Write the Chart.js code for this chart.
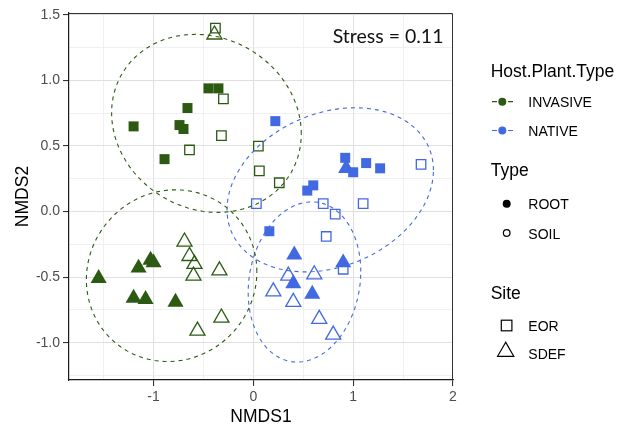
<!DOCTYPE html>
<html><head><meta charset="utf-8">
<script src="https://cdn.jsdelivr.net/npm/chart.js@4/dist/chart.umd.min.js"></script>
<style>
html,body{margin:0;padding:0;background:#fff;}
#wrap{position:relative;width:620px;height:428px;overflow:hidden;font-family:"Liberation Sans",Arial,sans-serif;}
#c{position:absolute;left:0;top:0;}
.lg{position:absolute;white-space:nowrap;color:#000;}
.t{font-size:17.5px;height:22px;line-height:22px;}
.l{font-size:14px;height:18px;line-height:18px;}
#keys{position:absolute;left:0;top:0;pointer-events:none;}
#stress{position:absolute;right:176.5px;top:24px;height:24px;line-height:24px;font-family:Lato,"Open Sans",sans-serif;font-size:19.5px;color:#111;white-space:nowrap;}
</style>
</head>
<body>
<div id="wrap">
<canvas id="c" width="620" height="428"></canvas>
<div id="stress">Stress = 0.11</div>
<div class="lg t" style="left:490.7px;top:59.8px;">Host.Plant.Type</div>
<div class="lg l" style="left:528.3px;top:93px;">INVASIVE</div>
<div class="lg l" style="left:528.3px;top:122px;">NATIVE</div>
<div class="lg t" style="left:490.7px;top:159px;">Type</div>
<div class="lg l" style="left:528.3px;top:195.2px;">ROOT</div>
<div class="lg l" style="left:528.3px;top:224.5px;">SOIL</div>
<div class="lg t" style="left:490.7px;top:281.8px;">Site</div>
<div class="lg l" style="left:528.3px;top:316.7px;">EOR</div>
<div class="lg l" style="left:528.3px;top:345.3px;">SDEF</div>
<svg id="keys" width="620" height="428" xmlns="http://www.w3.org/2000/svg">
  <line x1="492" y1="101.7" x2="513" y2="101.7" stroke="#2D5A12" stroke-width="1.2" stroke-dasharray="5 11"/>
  <circle cx="502.3" cy="101.7" r="4" fill="#2D5A12"/>
  <line x1="492" y1="130.5" x2="513" y2="130.5" stroke="#4169E1" stroke-width="1.2" stroke-dasharray="5 11"/>
  <circle cx="502.3" cy="130.5" r="4" fill="#4169E1"/>
  <circle cx="506.7" cy="203.8" r="4" fill="#000"/>
  <circle cx="506.7" cy="233" r="3.3" fill="none" stroke="#000" stroke-width="1.2"/>
  <rect x="501.3" y="320.2" width="10.6" height="10.6" fill="none" stroke="#000" stroke-width="1.2"/>
  <polygon points="505.7,342.2 497.6,356.3 513.8,356.3" fill="none" stroke="#000" stroke-width="1.2"/>
</svg>
</div>
<script>
// ---- axis ticks ----
const xGridValues = [-1.5, -1, -0.5, 0, 0.5, 1, 1.5, 2];
const xTickValues = [-1, 0, 1, 2];
const xTickLabels = ['-1', '0', '1', '2'];
const yGridValues = [-1.25, -1, -0.75, -0.5, -0.25, 0, 0.25, 0.5, 0.75, 1, 1.25, 1.5];
const yTickValues = [-1, -0.5, 0, 0.5, 1, 1.5];
const yTickLabels = ['-1.0', '-0.5', '0.0', '0.5', '1.0', '1.5'];

// ---- points [NMDS1, NMDS2] ----
const invasiveRootEOR = [[-0.45,0.94],[-0.35,0.94],[-0.66,0.79],[-1.20,0.65],[-0.74,0.66],[-0.70,0.63],[-0.89,0.40]];
const invasiveSoilEOR = [[-0.38,1.40],[-0.30,0.86],[-0.32,0.58],[-0.64,0.47],[0.05,0.50],[0.06,0.31],[0.26,0.22]];
const invasiveRootSDEF = [[-1.55,-0.51],[-1.15,-0.43],[-1.03,-0.37],[-1.00,-0.39],[-1.20,-0.66],[-1.08,-0.67],[-0.78,-0.69]];
const invasiveSoilSDEF = [[-0.39,1.35],[-0.69,-0.23],[-0.64,-0.34],[-0.59,-0.40],[-0.60,-0.49],[-0.34,-0.45],[-0.32,-0.81],[-0.56,-0.91]];
const nativeRootEOR = [[0.22,0.69],[0.92,0.41],[1.00,0.30],[1.13,0.37],[1.27,0.33],[0.54,0.16],[0.60,0.20],[0.16,-0.15]];
const nativeSoilEOR = [[1.68,0.36],[0.03,0.06],[0.70,0.06],[0.82,-0.02],[1.10,0.06],[0.73,-0.19],[0.90,-0.44]];
const nativeRootSDEF = [[0.93,0.33],[0.41,-0.33],[0.90,-0.39],[0.40,-0.55],[0.59,-0.63]];
const nativeSoilSDEF = [[0.35,-0.49],[0.61,-0.48],[0.20,-0.61],[0.40,-0.69],[0.66,-0.82],[0.80,-0.94]];

// ---- ellipses (centre, half extents, correlation) ----
const ellipseGroup = ['INVASIVE', 'INVASIVE', 'NATIVE', 'NATIVE'];
const ellipseCX = [-0.470, -0.819, 0.770, 0.512];
const ellipseCY = [0.673, -0.489, 0.166, -0.537];
const ellipseRX = [0.950, 0.854, 1.034, 0.564];
const ellipseRY = [0.679, 0.655, 0.626, 0.611];
const ellipseRho = [-0.118, 0.047, 0.24, 0.13];

const GREEN = '#2D5A12';
const BLUE = '#4169E1';
const groupColor = g => g === 'INVASIVE' ? GREEN : BLUE;

function ellipsePoints(i) {
  const pts = [];
  const n = 160;
  const s = Math.sqrt(1 - ellipseRho[i] * ellipseRho[i]);
  for (let k = 0; k <= n; k++) {
    const t = 2 * Math.PI * k / n;
    pts.push({
      x: ellipseCX[i] + ellipseRX[i] * Math.cos(t),
      y: ellipseCY[i] + ellipseRY[i] * (ellipseRho[i] * Math.cos(t) + s * Math.sin(t))
    });
  }
  return pts;
}
const toXY = arr => arr.map(p => ({x: p[0], y: p[1]}));

const datasets = [];
for (let i = 0; i < ellipseCX.length; i++) {
  datasets.push({
    data: ellipsePoints(i), showLine: true, pointRadius: 0, borderWidth: 1.1,
    borderColor: groupColor(ellipseGroup[i]), borderDash: [4, 4], fill: false, tension: 0
  });
}
function pts(arr, color, shape, filled) {
  const isTri = shape === 'triangle';
  return {
    data: toXY(arr), pointStyle: shape,
    pointRadius: isTri ? (filled ? 9.3 : 8.7) : (filled ? 7.07 : 6.7),
    pointBackgroundColor: filled ? color : 'rgba(0,0,0,0)',
    pointBorderColor: color,
    pointBorderWidth: filled ? 0 : 1.3,
    showLine: false
  };
}
datasets.push(pts(invasiveSoilEOR, GREEN, 'rect', false));
datasets.push(pts(invasiveSoilSDEF, GREEN, 'triangle', false));
datasets.push(pts(nativeSoilEOR, BLUE, 'rect', false));
datasets.push(pts(nativeSoilSDEF, BLUE, 'triangle', false));
datasets.push(pts(invasiveRootEOR, GREEN, 'rect', true));
datasets.push(pts(invasiveRootSDEF, GREEN, 'triangle', true));
datasets.push(pts(nativeRootEOR, BLUE, 'rect', true));
datasets.push(pts(nativeRootSDEF, BLUE, 'triangle', true));

const frame = {
  id: 'frame',
  afterDraw(chart) {
    const {ctx, chartArea: a} = chart;
    ctx.save();
    ctx.strokeStyle = '#333';
    ctx.lineWidth = 1;
    ctx.beginPath();
    ctx.moveTo(a.left, a.top + 0.5);
    ctx.lineTo(a.right - 0.5, a.top + 0.5);
    ctx.lineTo(a.right - 0.5, a.bottom);
    ctx.stroke();
    ctx.restore();
  }
};

Chart.defaults.font.family = '"Liberation Sans", Arial, sans-serif';
const FAM = '"Liberation Sans", Arial, sans-serif';

function gridOpts(majors) {
  return {
    color: c => majors.includes(c.tick.value) ? '#E0E0E0' : '#ECECEC',
    lineWidth: c => majors.includes(c.tick.value) ? 1.1 : 0.8,
    tickColor: c => majors.includes(c.tick.value) ? '#333' : 'rgba(0,0,0,0)',
    tickLength: 6,
    tickWidth: 1.1,
    drawTicks: true
  };
}

new Chart(document.getElementById('c'), {
  type: 'scatter',
  data: {datasets},
  plugins: [frame],
  options: {
    responsive: false,
    animation: false,
    devicePixelRatio: 1,
    layout: {padding: {left: 0, top: 13, right: 167, bottom: 0}},
    plugins: {legend: {display: false}, tooltip: {enabled: false}},
    scales: {
      x: {
        type: 'linear', min: -1.847, max: 2.0,
        afterBuildTicks: s => { s.ticks = xGridValues.map(v => ({value: v})); },
        afterFit: s => { s.height = 48; },
        ticks: {
          autoSkip: false, maxRotation: 0, padding: 3, color: '#4D4D4D',
          font: {family: FAM, size: 14},
          callback: v => { const i = xTickValues.indexOf(v); return i >= 0 ? xTickLabels[i] : ''; }
        },
        grid: gridOpts(xTickValues),
        border: {display: true, color: '#1a1a1a', width: 1.2},
        title: {display: true, text: 'NMDS1', color: '#000', font: {family: FAM, size: 17.5}, padding: {top: 0, bottom: 0}}
      },
      y: {
        type: 'linear', min: -1.285, max: 1.515,
        afterBuildTicks: s => { s.ticks = yGridValues.map(v => ({value: v})); },
        afterFit: s => { s.width = 69; },
        ticks: {
          autoSkip: false, padding: 3, color: '#4D4D4D',
          font: {family: FAM, size: 14},
          callback: v => { const i = yTickValues.indexOf(v); return i >= 0 ? yTickLabels[i] : ''; }
        },
        grid: gridOpts(yTickValues),
        border: {display: true, color: '#1a1a1a', width: 1.2},
        title: {display: true, text: 'NMDS2', color: '#000', font: {family: FAM, size: 17.5}, padding: {top: 12.3, bottom: 0}}
      }
    }
  }
});
</script>
</body></html>
